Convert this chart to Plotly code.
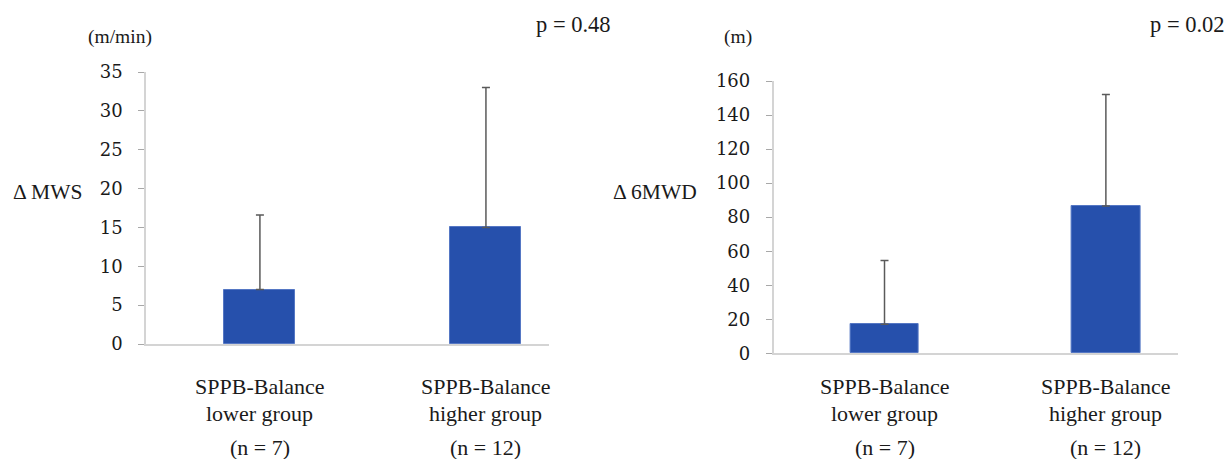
import plotly.graph_objects as go

# Group labels shared by both panels
groups = ["SPPB-Balance<br>lower group", "SPPB-Balance<br>higher group"]
group_n = ["(n = 7)", "(n = 12)"]

# Change in maximum walking speed (m/min): mean and SD
mws_mean = [7.0, 15.0]
mws_sd = [9.6, 18.0]

# Change in six-minute walk distance (m): mean and SD
mwd_mean = [17.0, 86.5]
mwd_sd = [37.5, 65.5]

mws_ticks = [0, 5, 10, 15, 20, 25, 30, 35]
mwd_ticks = [0, 20, 40, 60, 80, 100, 120, 140, 160]

W, H = 1225, 459
BAR = "#2650ac"
TIMES = "Liberation Serif, Times New Roman, serif"
NUMS = "DejaVu Serif, serif"
TXT = "#1a1a1a"


def px_x(p):
    return p / W


def px_y(p):
    return 1 - p / H


fig = go.Figure()
pos = [0, 1]

fig.add_trace(go.Bar(
    x=pos, y=mws_mean, width=0.314,
    marker=dict(color=BAR, line=dict(color="#5577c4", width=1)),
    error_y=dict(type="data", array=mws_sd, arrayminus=[0, 0], symmetric=False,
                 color="#5a5a5a", thickness=1.5, width=4),
    xaxis="x", yaxis="y", showlegend=False, hoverinfo="skip",
))
fig.add_trace(go.Bar(
    x=pos, y=mwd_mean, width=0.31,
    marker=dict(color=BAR, line=dict(color="#5577c4", width=1)),
    error_y=dict(type="data", array=mwd_sd, arrayminus=[0, 0], symmetric=False,
                 color="#5a5a5a", thickness=1.5, width=4),
    xaxis="x2", yaxis="y2", showlegend=False, hoverinfo="skip",
))

xcommon = dict(showgrid=False, zeroline=False, showticklabels=False, ticks="",
               showline=True, linecolor="#d4d4d4", linewidth=1.5,
               automargin=False, fixedrange=True)
ycommon = dict(showgrid=False, zeroline=False, showline=True, linecolor="#d4d4d4",
               linewidth=1.5, ticks="outside", ticklen=6, tickcolor="#a8a8a8",
               tickwidth=1.2, ticklabelstandoff=12, automargin=False,
               tickfont=dict(family=NUMS, size=18, color=TXT), fixedrange=True)

fig.update_layout(
    width=W, height=H,
    margin=dict(l=0, r=0, t=0, b=0, pad=0, autoexpand=False),
    paper_bgcolor="white", plot_bgcolor="white",
    xaxis=dict(domain=[px_x(146), px_x(549)], range=[-0.504, 1.279],
               anchor="y", **xcommon),
    yaxis=dict(domain=[px_y(344), px_y(72)], range=[0, 35],
               tickvals=mws_ticks, anchor="x", **ycommon),
    xaxis2=dict(domain=[px_x(773.6), px_x(1177.6)], range=[-0.501, 1.324],
                anchor="y2", **xcommon),
    yaxis2=dict(domain=[px_y(353.3), px_y(81)], range=[0, 160],
                tickvals=mwd_ticks, anchor="x2", **ycommon),
    bargap=0,
)

ann = []


def text(x, y, s, size=22, family=TIMES, xref="paper"):
    ann.append(dict(x=x, y=px_y(y), xref=xref, yref="paper", text=s,
                    showarrow=False, xanchor="center", yanchor="middle",
                    font=dict(family=family, size=size, color=TXT)))


# Panel headers, units and axis titles
text(px_x(120), 37, "(m/min)", size=19.5)
text(px_x(573), 25, "p = 0.48", size=22.5)
text(px_x(47), 192, "Δ MWS", size=21.5)
text(px_x(738), 37, "(m)", size=19.5)
text(px_x(1187), 25, "p = 0.02", size=22.5)
text(px_x(655), 192, "Δ 6MWD", size=21.5)

# Category labels under each bar
for xref in ["x", "x2"]:
    for i, g in enumerate(groups):
        top, bottom = g.split("<br>")
        text(pos[i], 386, top, xref=xref)
        text(pos[i], 413, bottom, xref=xref)
        text(pos[i], 447, group_n[i], xref=xref)

fig.update_layout(annotations=ann)

fig.write_html("out.html")
